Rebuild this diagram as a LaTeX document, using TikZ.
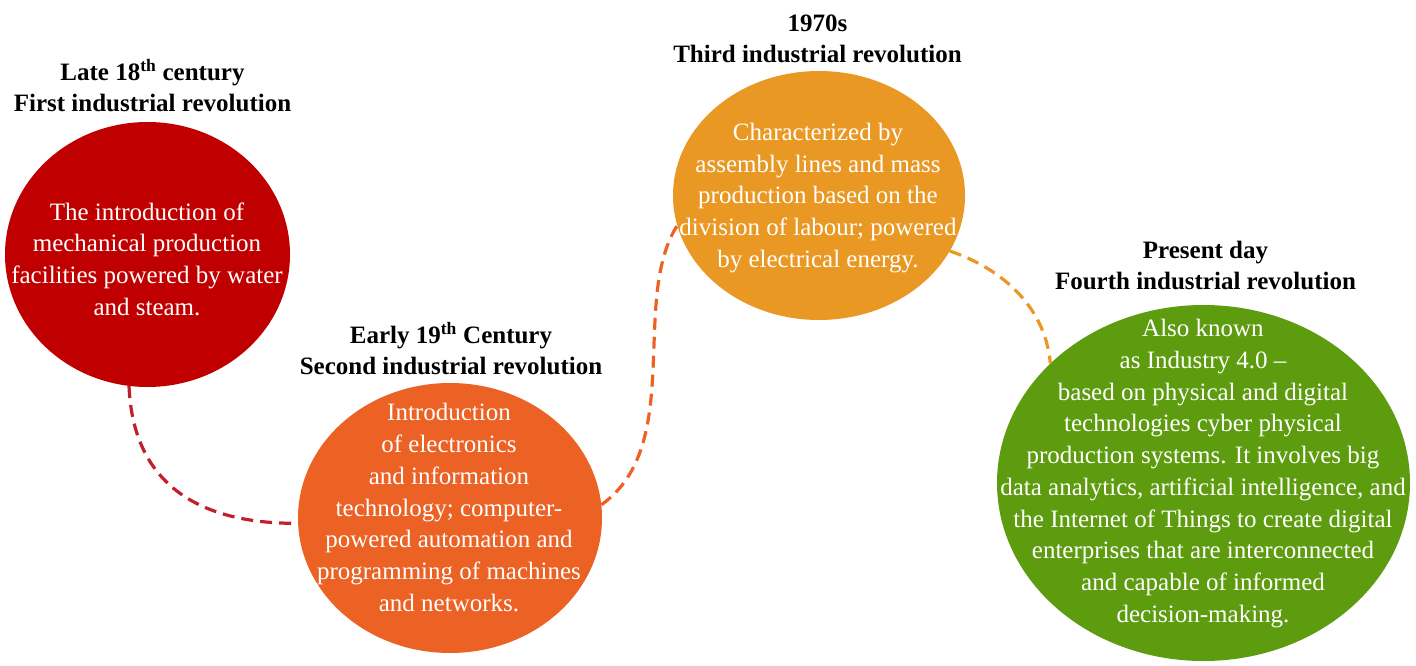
\documentclass[tikz,border=0pt]{standalone}
\usepackage{fontspec}
\setmainfont{Liberation Serif}
\usetikzlibrary{shapes.geometric}
\definecolor{cRed}{HTML}{C00000}
\definecolor{cOrange}{HTML}{EC6124}
\definecolor{cYellow}{HTML}{EA9824}
\definecolor{cGreen}{HTML}{5E9C0F}
\definecolor{cLink}{HTML}{C0202A}
\begin{document}
\begin{tikzpicture}[x=1pt,y=-1pt,
  blob/.style={ellipse,draw=none,inner sep=0pt},
  body/.style={align=center,text=white,inner sep=0pt,font=\fontsize{25}{31.7}\selectfont},
  head/.style={align=center,text=black,inner sep=0pt,anchor=south,font=\fontsize{25}{31}\selectfont\bfseries},
  link/.style={line width=3.2pt,dash pattern=on 12pt off 7pt}]
\useasboundingbox (0,0) rectangle (1416,666);
% circles
\node[blob,fill=cRed,minimum width=285pt,minimum height=265pt] (e1) at (147.5,254.5) {};
\node[blob,fill=cOrange,minimum width=304pt,minimum height=270pt] (e2) at (450,518) {};
\node[blob,fill=cYellow,minimum width=292pt,minimum height=249pt] (e3) at (819,195.5) {};
\node[blob,fill=cGreen,minimum width=413pt,minimum height=356pt] (e4) at (1203.5,483) {};
% connectors
\draw[link,cLink] (e1.262) .. controls (133,485) and (200,524) .. (e2.182);
\draw[link,cOrange] (e2.5) .. controls (685,445) and (630,300) .. (e3.192);
\draw[link,cYellow] (e3.337) .. controls (1000,268) and (1045,305) .. (e4.142);
% headings
\node[head] (h1) at (152.5,112) {Late 18\textsuperscript{th} century\\First industrial revolution};
\node[head] (h2) at (451,375) {Early 19\textsuperscript{th} Century\\Second industrial revolution};
\node[head] (h3) at (817.5,63) {1970s\\Third industrial revolution};
\node[head] (h4) at (1205.5,290) {Present day\\Fourth industrial revolution};
% body texts
\node[body] (t1) at (147,259) {The introduction of\\mechanical production\\facilities powered by water\\and steam.};
\node[body] (t2) at (449,507.5) {Introduction\\of electronics\\and information\\technology; computer-\\powered automation and\\programming of machines\\and networks.};
\node[body] (t3) at (818,198) {Characterized by\\assembly lines and mass\\production based on the\\division of labour; powered\\by electrical energy.};
\node[body] (t4) at (1203,473.5) {Also known\\as Industry 4.0 --\\based on physical and digital\\technologies cyber physical\\production systems. It involves big\\data analytics, artificial intelligence, and\\the Internet of Things to create digital\\enterprises that are interconnected\\and capable of informed\\decision-making.};
\end{tikzpicture}
\end{document}
